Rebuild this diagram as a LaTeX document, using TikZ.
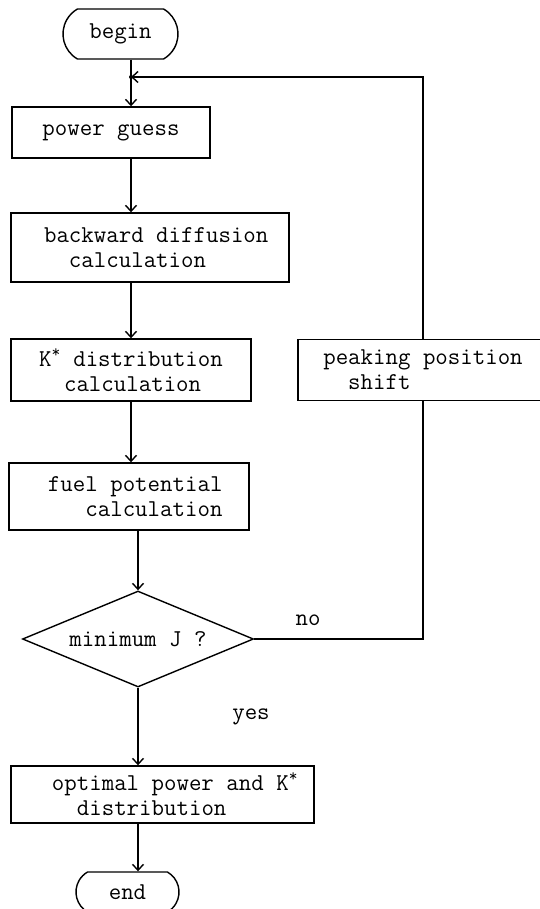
\documentclass[tikz,border=0pt]{standalone}
\usepackage{fontspec}
\usetikzlibrary{shapes.geometric,shapes.misc}
\usetikzlibrary{arrows.meta}
\newcommand\flowfont{\ttfamily\fontsize{24.2}{25}\selectfont}
\tikzstyle{arrow} = [line width=1.4pt,->,>={Straight Barb[length=6pt,width=11pt]}]
\tikzstyle{line} = [line width=1.4pt]
\tikzstyle{process} = [rectangle,draw,line width=1.4pt,align=left,inner sep=0pt,font=\flowfont]
\tikzstyle{terminal} = [rounded rectangle,rounded rectangle arc length=120,draw,line width=1.4pt,inner sep=0pt,font=\flowfont]
\tikzstyle{decision} = [diamond,aspect=2.4,draw,line width=1.4pt,inner sep=0pt,font=\flowfont]
\tikzstyle{answer} = [inner sep=0pt,font=\flowfont]

\begin{document}
\begin{tikzpicture}[x=1pt,y=-1pt]
\clip (0,0) rectangle (540,909);

\node[terminal,minimum width=115pt,minimum height=50pt] (begin) at (120.5,34) {begin};
\node[process,minimum width=198pt,minimum height=51pt] (power) at (111,132.5) {power guess};
\node[process,minimum width=278pt,minimum height=69pt] (backward) at (150,247.5)
  {\phantom{x}backward diffusion\\\phantom{xxx}calculation};
\node[process,minimum width=240pt,minimum height=62pt] (kdist) at (131,370)
  {K\textsuperscript{*} distribution\\\phantom{xx}calculation};
\node[process,minimum width=250pt,minimum height=61pt] (peak) at (423,370)
  {peaking position\\\phantom{xx}shift};
\node[process,minimum width=240pt,minimum height=67pt] (fuel) at (129,496.5)
  {\phantom{x}fuel potential\\\phantom{xxxx}calculation};
\node[decision,minimum width=231pt,minimum height=96pt] (decide) at (138,639) {minimum J ?};
\node[process,minimum width=303pt,minimum height=57pt] (optimal) at (162.5,794.5)
  {\phantom{xx}optimal power and K\textsuperscript{*}\\\phantom{xxxx}distribution};
\node[terminal,minimum width=103pt,minimum height=40pt] (end) at (127.5,892) {end};

\node[answer] (no) at (308,620) {no};
\node[answer] (yes) at (251,717) {yes};

% main line
\coordinate (spine) at (131,0);
\coordinate (junction) at (131,77);
\draw[line] (spine |- begin.south) -- (junction);
\draw[arrow] (junction) -- (spine |- power.north);
\draw[arrow] (spine |- power.south) -- (spine |- backward.north);
\draw[arrow] (spine |- backward.south) -- (spine |- kdist.north);
\draw[arrow] (spine |- kdist.south) -- (spine |- fuel.north);
\draw[arrow] (decide.north |- fuel.south) -- (decide.north);
\draw[arrow] (decide.south) -- (decide.south |- optimal.north);
\draw[arrow] (decide.south |- optimal.south) -- (decide.south |- end.north);

% loop back
\draw[line] (decide.east) -- (peak.south |- decide.east) -- (peak.south);
\draw[arrow] (peak.north) -- (peak.north |- junction) -- (junction);
\fill (junction) circle (2pt);
\end{tikzpicture}
\end{document}
